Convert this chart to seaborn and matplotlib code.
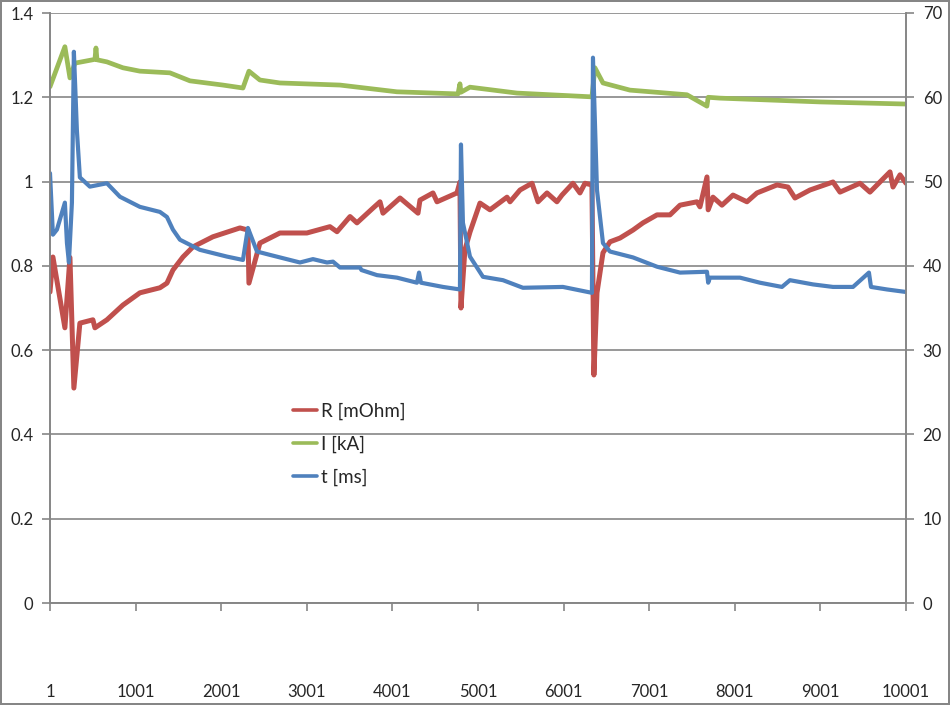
import matplotlib
matplotlib.use("Agg")
import matplotlib.pyplot as plt
import pandas as pd
import seaborn as sns

# values (sample index -> value)
r_idx = [1, 35, 175, 234, 280, 350, 502, 526, 666, 853, 1051, 1285, 1367, 1437, 1554, 1671,
         1904, 2220, 2313, 2325, 2453, 2687, 3002, 3271, 3354, 3506, 3587, 3774, 3856, 3891,
         4090, 4300, 4323, 4475, 4522, 4755, 4790, 4802, 4848, 4907, 5024, 5141, 5340, 5375,
         5492, 5632, 5702, 5807, 5923, 5982, 6110, 6192, 6251, 6332, 6355, 6391, 6461, 6543,
         6660, 6812, 6928, 7092, 7244, 7361, 7559, 7594, 7676, 7690, 7746, 7851, 7980, 8143,
         8260, 8494, 8622, 8704, 8879, 9148, 9230, 9463, 9580, 9814, 9849, 9931, 10001]
r_val = [0.738, 0.821, 0.653, 0.820, 0.510, 0.664, 0.672, 0.653, 0.672, 0.707, 0.736, 0.748,
         0.759, 0.790, 0.821, 0.845, 0.869, 0.890, 0.885, 0.759, 0.854, 0.878, 0.878, 0.893,
         0.881, 0.917, 0.902, 0.937, 0.952, 0.925, 0.961, 0.925, 0.956, 0.973, 0.952, 0.973,
         0.999, 0.700, 0.838, 0.880, 0.949, 0.933, 0.963, 0.952, 0.980, 0.996, 0.952, 0.973,
         0.952, 0.968, 0.996, 0.973, 0.996, 0.992, 0.541, 0.736, 0.831, 0.857, 0.866, 0.885,
         0.902, 0.921, 0.921, 0.944, 0.952, 0.940, 1.011, 0.933, 0.963, 0.944, 0.968, 0.952,
         0.973, 0.992, 0.987, 0.961, 0.980, 0.999, 0.975, 0.996, 0.975, 1.023, 0.987, 1.016,
         0.996]

i_idx = [1, 175, 234, 292, 526, 538, 550, 666, 853, 1051, 1402, 1636, 2021, 2255, 2325, 2453,
         2687, 3388, 4054, 4767, 4790, 4802, 4907, 5456, 6332, 6367, 6461, 6776, 7442, 7675,
         7690, 7827, 8996, 10001]
i_val = [1.225, 1.320, 1.246, 1.281, 1.290, 1.317, 1.289, 1.284, 1.270, 1.262, 1.258, 1.239,
         1.229, 1.222, 1.262, 1.241, 1.234, 1.229, 1.213, 1.208, 1.232, 1.212, 1.224, 1.210,
         1.201, 1.270, 1.234, 1.217, 1.206, 1.179, 1.200, 1.198, 1.189, 1.184]

t_idx = [1, 35, 82, 175, 199, 222, 257, 280, 315, 350, 467, 666, 818, 1051, 1285, 1367, 1437,
         1519, 1752, 2068, 2255, 2313, 2419, 2571, 2921, 3073, 3237, 3307, 3389, 3622, 3640,
         3821, 4055, 4288, 4312, 4335, 4592, 4790, 4802, 4825, 4907, 5059, 5293, 5526, 5993,
         6332, 6344, 6391, 6461, 6543, 6812, 7092, 7361, 7676, 7690, 7711, 8062, 8295, 8552,
         8645, 8914, 9148, 9382, 9568, 9592, 9779, 10001]
t_val = [51.0, 43.7, 44.3, 47.5, 42.7, 40.4, 47.5, 65.4, 56.1, 50.5, 49.4, 49.8, 48.2, 47.0,
         46.4, 45.8, 44.3, 43.1, 41.9, 41.1, 40.7, 44.5, 41.7, 41.3, 40.4, 40.8, 40.4, 40.5,
         39.8, 39.8, 39.5, 38.9, 38.6, 38.0, 39.2, 38.0, 37.5, 37.2, 54.4, 45.1, 41.1, 38.7,
         38.3, 37.4, 37.5, 36.8, 64.7, 49.0, 42.7, 41.7, 41.0, 39.9, 39.2, 39.3, 38.0, 38.6,
         38.6, 38.0, 37.5, 38.3, 37.8, 37.5, 37.5, 39.2, 37.5, 37.2, 36.9]

x_ticks = list(range(1, 10002, 1000))
left_ticks = [0, 0.2, 0.4, 0.6, 0.8, 1, 1.2, 1.4]
right_ticks = [0, 10, 20, 30, 40, 50, 60, 70]

sns.set_style("white")
plt.rcParams['font.family'] = ['Lato', 'DejaVu Sans']

grey = '#868686'
red = '#C0504D'
green = '#9BBB59'
blue = '#4F81BD'

fig = plt.figure(figsize=(9.5, 7.05), dpi=100)
fig.patch.set_edgecolor(grey)
fig.patch.set_linewidth(1.5)
ax = fig.add_axes([50 / 950, 1 - 603 / 705, 856 / 950, 590 / 705])
ax2 = ax.twinx()

r_df = pd.DataFrame({'idx': r_idx, 'val': r_val})
i_df = pd.DataFrame({'idx': i_idx, 'val': i_val})
t_df = pd.DataFrame({'idx': t_idx, 'val': t_val})

sns.lineplot(data=r_df, x='idx', y='val', ax=ax, color=red, linewidth=3.6, label='R [mOhm]', legend=False)
sns.lineplot(data=i_df, x='idx', y='val', ax=ax, color=green, linewidth=3.4, label='I [kA]', legend=False)
sns.lineplot(data=t_df, x='idx', y='val', ax=ax2, color=blue, linewidth=3.0, label='t [ms]', legend=False)

ax.set_xlim(1, 10001)
ax.set_ylim(0, 1.4)
ax2.set_ylim(0, 70)
ax.set_xticks(x_ticks)
ax.set_xticklabels([str(v) for v in x_ticks])
ax.set_yticks(left_ticks)
ax.set_yticklabels([f'{v:g}' for v in left_ticks])
ax2.set_yticks(right_ticks)
ax2.set_yticklabels([str(v) for v in right_ticks])
ax.set_xlabel('')
ax.set_ylabel('')
ax2.set_ylabel('')

ax.yaxis.grid(True, color=grey, linewidth=1.2)
ax.set_axisbelow(True)
for a in (ax, ax2):
    a.spines['top'].set_visible(False)
    for s in ('left', 'right', 'bottom'):
        a.spines[s].set_color(grey)
        a.spines[s].set_linewidth(1.2)
ax.tick_params(axis='y', direction='out', length=6, width=1.2, color=grey, labelsize=12, pad=6, left=True)
ax2.tick_params(axis='y', direction='out', length=6, width=1.2, color=grey, labelsize=12, pad=6, right=True)
ax.tick_params(axis='x', direction='out', length=6, width=1.2, color=grey, labelsize=12, pad=52, bottom=True)

h1, l1 = ax.get_legend_handles_labels()
h2, l2 = ax2.get_legend_handles_labels()
leg = ax2.legend(h1 + h2, l1 + l2, loc='upper left', bbox_to_anchor=(0.264, 0.369),
                 frameon=False, fontsize=13.5, handlelength=1.3, handletextpad=0.2,
                 labelspacing=0.85)
for line in leg.get_lines():
    line.set_linewidth(2.6)

fig.savefig('out.png', dpi=100, edgecolor=fig.get_edgecolor())
